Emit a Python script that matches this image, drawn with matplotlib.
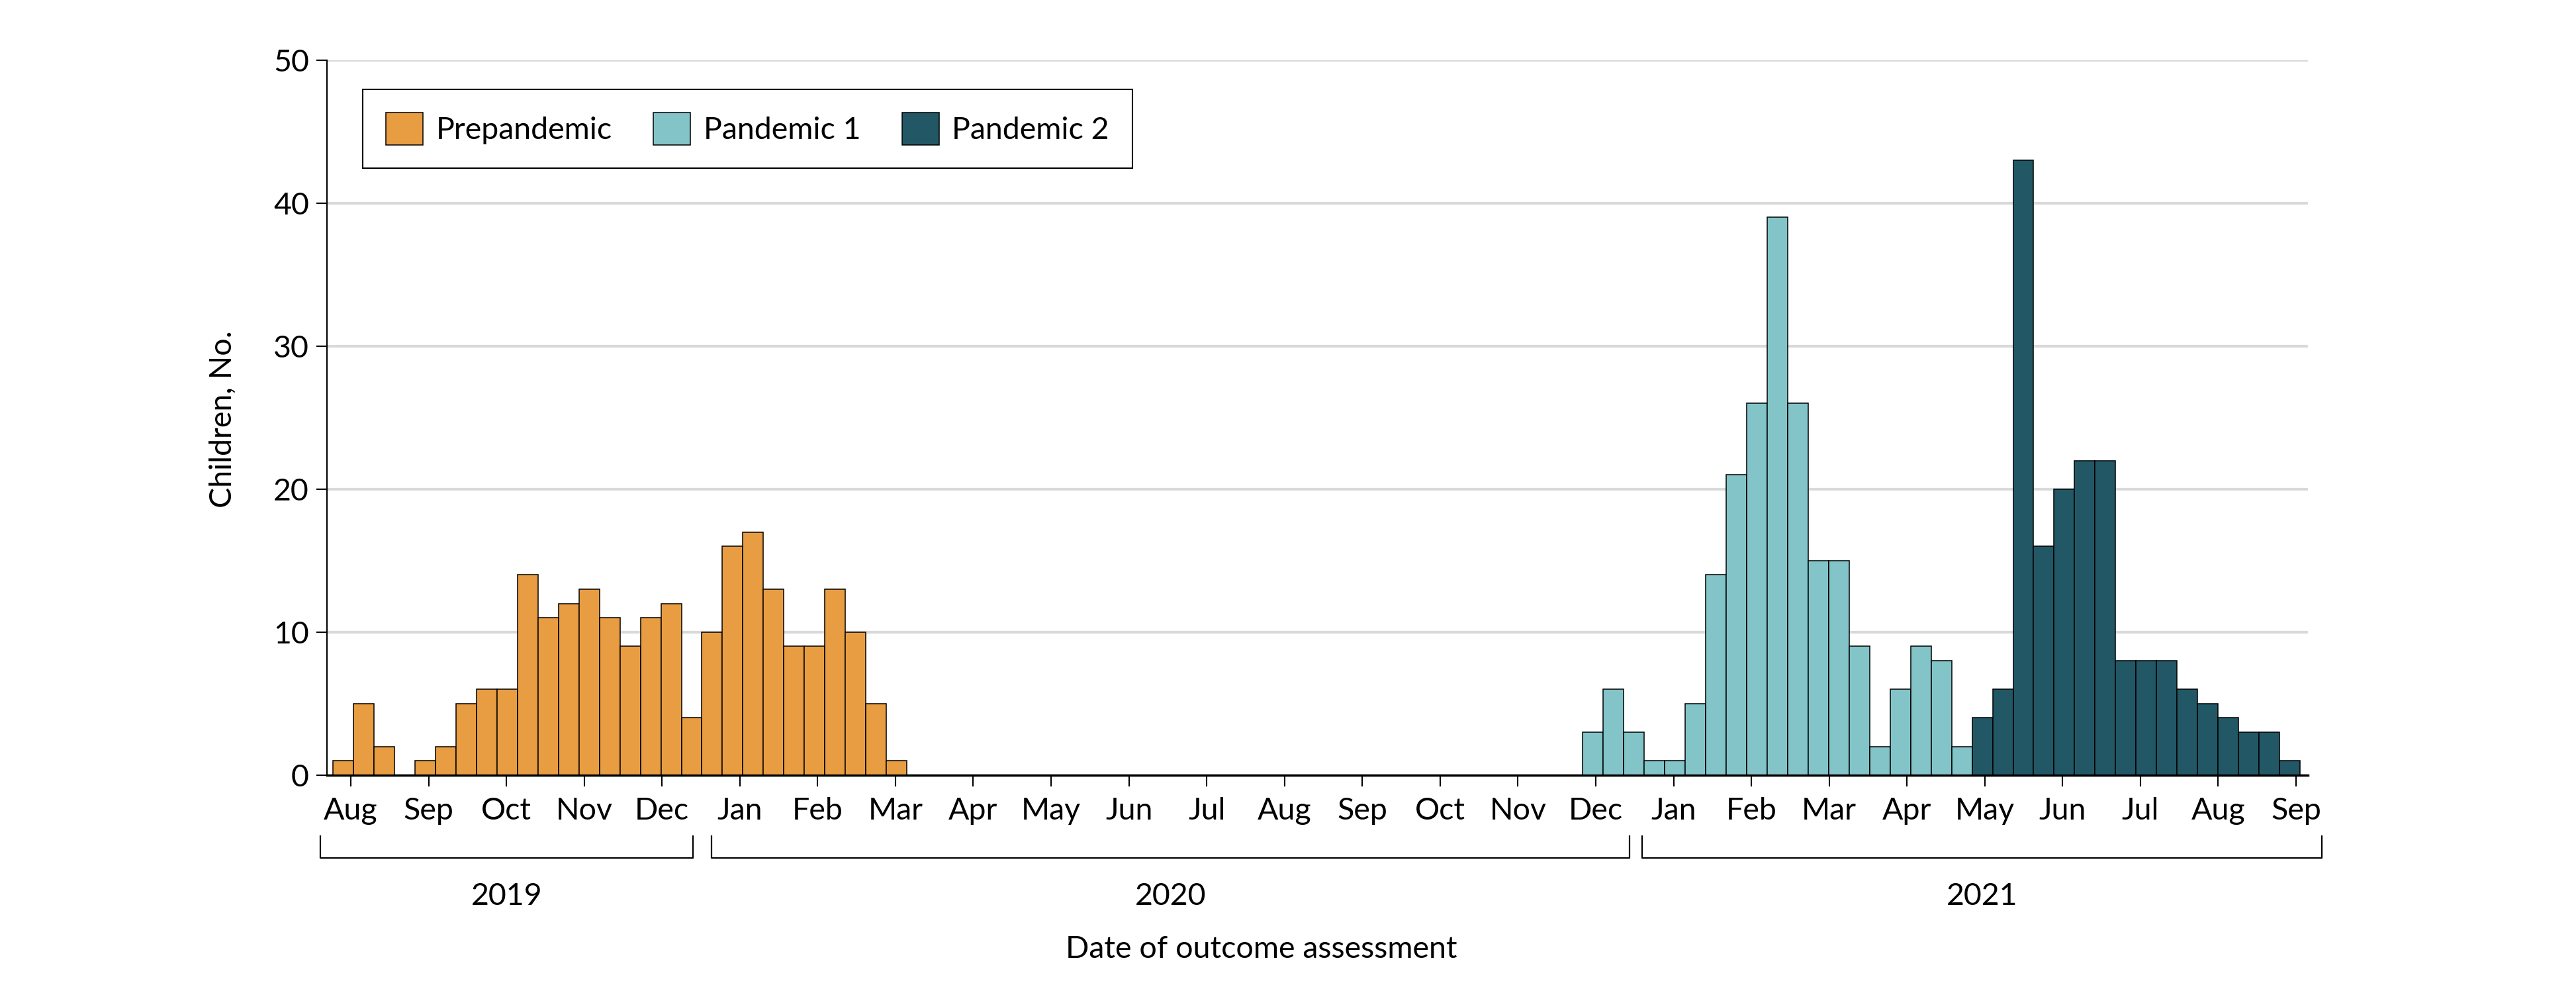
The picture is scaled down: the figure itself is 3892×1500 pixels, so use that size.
import numpy as np
import matplotlib
matplotlib.use("Agg")
import matplotlib.pyplot as plt
import matplotlib.transforms as transforms
from matplotlib.patches import Patch

plt.rcParams['font.family'] = ['Lato', 'DejaVu Sans']

# month tick labels, Aug 2019 .. Sep 2021
months = ["Aug", "Sep", "Oct", "Nov", "Dec",
          "Jan", "Feb", "Mar", "Apr", "May", "Jun", "Jul", "Aug", "Sep", "Oct", "Nov", "Dec",
          "Jan", "Feb", "Mar", "Apr", "May", "Jun", "Jul", "Aug", "Sep"]
years = ["2019", "2020", "2021"]

# children per bin (bins are consecutive, counted from the first bar)
prepandemic = [1, 5, 2, 0, 1, 2, 5, 6, 6, 14, 11, 12, 13, 11, 9, 11, 12, 4,
               10, 16, 17, 13, 9, 9, 13, 10, 5, 1]
pandemic1 = [3, 6, 3, 1, 1, 5, 14, 21, 26, 39, 26, 15, 15, 9, 2, 6, 9, 8, 2]
pandemic2 = [4, 6, 43, 16, 20, 22, 22, 8, 8, 8, 6, 5, 4, 3, 3, 1]
series_start = [0, 61, 80]
series_names = ["Prepandemic", "Pandemic 1", "Pandemic 2"]
colors = ["#E89D42", "#82C4C8", "#225766"]

# layout (month units on x axis)
bin_w = 0.2633
first_edge = -0.227
year_spans = [(-0.39, 4.40), (4.64, 16.43), (16.60, 25.33)]

W, H = 3892, 1500
fig = plt.figure(figsize=(W / 100, H / 100), dpi=100)
ax = fig.add_axes([494 / W, 1 - 1170.7 / H, (3487 - 494) / W, (1170.7 - 90.7) / H])

for vals, start, color in zip([prepandemic, pandemic1, pandemic2], series_start, colors):
    v = np.array(vals)
    x = first_edge + (start + np.arange(len(v))) * bin_w
    m = v > 0
    ax.bar(x[m], v[m], width=bin_w, align='edge', color=color,
           edgecolor='black', linewidth=1.1, zorder=3)

ax.set_xlim(-0.306, 25.153)
ax.set_ylim(0, 50)
ax.set_yticks(range(0, 51, 10))
ax.set_xticks(range(len(months)))
ax.set_xticklabels(months)
ax.yaxis.grid(True, color='#d9d9d9', linewidth=3)
ax.set_axisbelow(True)
for s in ['top', 'right']:
    ax.spines[s].set_visible(False)
ax.spines['left'].set_linewidth(1.5)
ax.spines['bottom'].set_linewidth(2.5)
ax.spines['bottom'].set_zorder(4)
ax.tick_params(axis='y', length=11.5, width=1.5, pad=8, labelsize=33.5)
ax.tick_params(axis='x', length=12, width=1.5, pad=12, labelsize=33.5)

# year brackets under the month labels
tr = transforms.blended_transform_factory(ax.transData, fig.transFigure)
y_line = 1 - 1296 / H
y_top = 1 - 1263 / H
for (a, b), yr in zip(year_spans, years):
    ax.plot([a, a, b, b], [y_top, y_line, y_line, y_top], transform=tr,
            color='black', linewidth=1.6, clip_on=False)
    ax.text((a + b) / 2, 1 - 1367 / H, yr, transform=tr, ha='center',
            va='baseline', fontsize=33.5)

fig.text(0.4897, 1 - 1447 / H, "Date of outcome assessment", ha='center',
         va='baseline', fontsize=33.5)
fig.text(337 / W, 1 - 633 / H, "Children, No.", rotation=90, ha='center',
         va='center', fontsize=33.5)

handles = [Patch(facecolor=c, edgecolor='black', linewidth=1.1, label=n)
           for c, n in zip(colors, series_names)]
leg = fig.legend(handles=handles, loc='upper left', bbox_to_anchor=(548 / W, 1 - 135 / H),
                 ncol=3, frameon=True, fancybox=False, edgecolor='black',
                 borderpad=0.75, handlelength=1.2, handleheight=1.25,
                 handletextpad=0.42, columnspacing=1.35, borderaxespad=0,
                 fontsize=33.5)
leg.get_frame().set_linewidth(1.5)
leg.get_frame().set_alpha(None)

fig.savefig("out.png", dpi=100)
